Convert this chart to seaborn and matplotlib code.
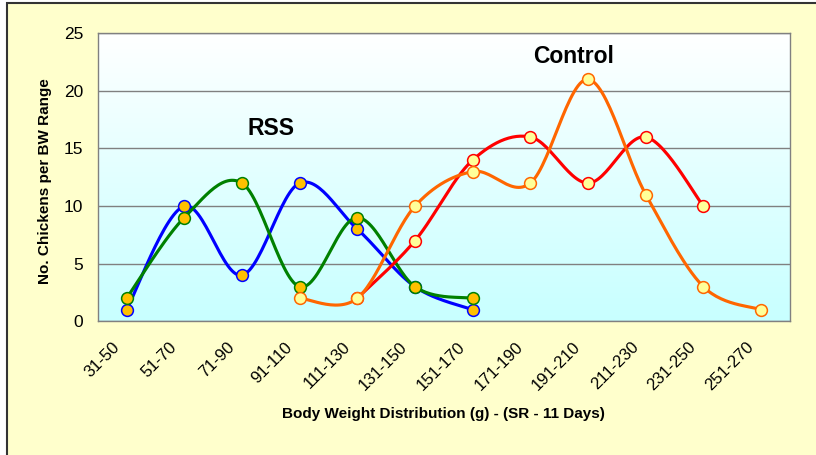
import numpy as np
import pandas as pd
import matplotlib
matplotlib.use("Agg")
import matplotlib.pyplot as plt
import matplotlib.transforms as mtransforms
from matplotlib.colors import LinearSegmentedColormap
from matplotlib.patches import Rectangle
import seaborn as sns

# Body weight ranges (g)
categories = ["31-50", "51-70", "71-90", "91-110", "111-130", "131-150",
              "151-170", "171-190", "191-210", "211-230", "231-250", "251-270"]

# No. of chickens per range (None = no point in that range)
rss_blue = [1, 10, 4, 12, 8, 3, 1, None, None, None, None, None]
rss_green = [2, 9, 12, 3, 9, 3, 2, None, None, None, None, None]
control_red = [None, None, None, None, 2, 7, 14, 16, 12, 16, 10, None]
control_orange = [None, None, None, 2, 2, 10, 13, 12, 21, 11, 3, 1]

y_ticks = [0, 5, 10, 15, 20, 25]


def smooth(xs, ys, n=30):
    # Excel-like smoothed line: cubic bezier through points (catmull-rom)
    pts = np.column_stack([xs, ys]).astype(float)
    p = np.vstack([pts[0], pts, pts[-1]])
    t = np.linspace(0, 1, n)[:, None]
    out = []
    for i in range(1, len(p) - 2):
        p0, p1, p2, p3 = p[i - 1], p[i], p[i + 1], p[i + 2]
        c1 = p1 + (p2 - p0) / 6
        c2 = p2 - (p3 - p1) / 6
        seg = ((1 - t) ** 3) * p1 + 3 * ((1 - t) ** 2) * t * c1 \
            + 3 * (1 - t) * t ** 2 * c2 + t ** 3 * p2
        out.append(seg if i == 1 else seg[1:])
    return np.vstack(out)


sns.set_style("white")
plt.rcParams['font.family'] = ['Liberation Sans', 'DejaVu Sans']
plt.rcParams['text.color'] = 'black'
plt.rcParams['xtick.color'] = 'black'
plt.rcParams['ytick.color'] = 'black'

fig = plt.figure(figsize=(8.16, 4.55), dpi=100, facecolor="white")

# chart area background with border (only top and left edges visible)
bg = Rectangle((7 / 816, -0.2), 1.2, 1.2 - 3 / 455, transform=fig.transFigure,
               facecolor="#FFFFCC", edgecolor="#333333", linewidth=1.5, zorder=-10)
fig.add_artist(bg)

ax = fig.add_axes([97.7 / 816, 1 - 321.3 / 455, (790 - 97.7) / 816, 288 / 455])
ax.set_zorder(1)

# plot area gradient (white at top -> light cyan at bottom)
cmap = LinearSegmentedColormap.from_list("bg", ["#C8FFFF", "#E2FFFF", "#FFFFFF"])
grad = np.linspace(0, 1, 256)[:, None]
ax.imshow(grad, extent=[0, 1, 0, 1], transform=ax.transAxes, aspect="auto",
          cmap=cmap, origin="lower", zorder=0)

series = [
    (rss_blue, "#0000FF", "#FFC000"),
    (rss_green, "#008000", "#FFC000"),
    (control_red, "#FF0000", "#FFFF99"),
    (control_orange, "#FF6600", "#FFFF99"),
]

z = 3
for vals, line_col, face_col in series:
    df = pd.DataFrame({"x": np.arange(len(categories)), "y": vals}).dropna()
    curve = smooth(df["x"].values, df["y"].values)
    sns.lineplot(x=curve[:, 0], y=curve[:, 1], ax=ax, sort=False, estimator=None,
                 color=line_col, linewidth=2.25, zorder=z)
    sns.scatterplot(data=df, x="x", y="y", ax=ax, s=72, color=face_col,
                    edgecolor=line_col, linewidth=1.1, zorder=z + 1)
    z += 2

ax.set_xlim(-0.5, len(categories) - 0.5)
ax.set_ylim(0, 25)
ax.set_yticks(y_ticks)
ax.set_xticks(np.arange(len(categories)))
ax.set_xticks(np.arange(len(categories) + 1) - 0.5, minor=True)
ax.set_xticklabels(categories, rotation=45, ha="right", va="top", fontsize=12)
ax.tick_params(axis="x", which="major", length=0, pad=13)
ax.tick_params(axis="x", which="minor", length=4.5, width=1, color="#808080")
ax.tick_params(axis="y", length=4.5, width=1, color="#808080", pad=6, labelsize=12.5)
for lab in ax.get_xticklabels():
    lab.set_transform(lab.get_transform() +
                      mtransforms.ScaledTranslation(-0.045, 0, fig.dpi_scale_trans))
ax.set_xlabel("")
ax.set_ylabel("")

ax.yaxis.grid(True, color="#808080", linewidth=1)
ax.set_axisbelow(True)
for sp in ax.spines.values():
    sp.set_color("#808080")
    sp.set_linewidth(1)
    sp.set_visible(True)

ax.text(2.5, 16.7, "RSS", fontsize=16.5, fontweight="bold", ha="center", va="center", zorder=20)
ax.text(7.74, 22.97, "Control", fontsize=16.5, fontweight="bold", ha="center", va="center", zorder=20)

fig.text(45 / 816, 1 - 181 / 455, "No. Chickens per BW Range", rotation=90,
         fontsize=11, fontweight="bold", ha="center", va="center")
fig.text(443 / 816, 1 - 418 / 455, "Body Weight Distribution (g) - (SR - 11 Days)",
         fontsize=11, fontweight="bold", ha="center", va="baseline")

plt.savefig("out.png", dpi=100)
